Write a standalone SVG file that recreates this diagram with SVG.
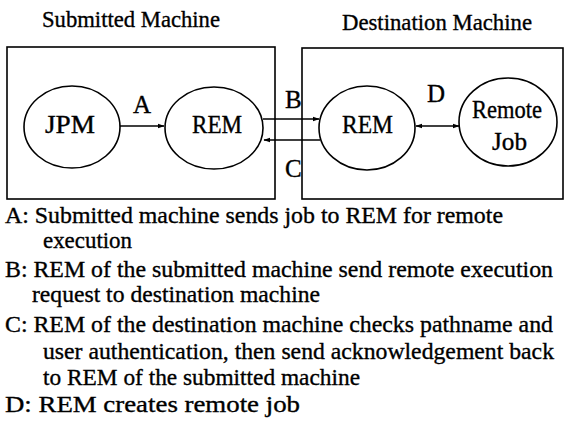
<svg xmlns="http://www.w3.org/2000/svg" width="565" height="423" viewBox="0 0 565 423">
<style>
text{font-family:'Liberation Serif','Times New Roman',serif;fill:#000;stroke:#000;stroke-width:0.35}
.t{font-size:24px}
.n{font-size:25px}
.d{font-size:23.5px}
.box{fill:none;stroke:#000;stroke-width:1.6}
.ell{fill:#fff;stroke:#000;stroke-width:1.6}
.ln{stroke:#000;stroke-width:1.6;fill:none}
</style>
<defs>
<marker id="ah" viewBox="0 0 10 10" refX="9" refY="5" markerWidth="7" markerHeight="7" orient="auto-start-reverse" markerUnits="userSpaceOnUse">
<path d="M0,1.5 L10,5 L0,8.5 Z" fill="#000"/>
</marker>
</defs>
<g id="submitted-machine">
<rect class="box" x="7" y="47" width="268" height="152"/>
<text class="t" x="42" y="27" textLength="178" lengthAdjust="spacingAndGlyphs">Submitted Machine</text>
</g>
<g id="destination-machine">
<rect class="box" x="302" y="48" width="261" height="151"/>
<text class="t" x="342" y="30" textLength="190" lengthAdjust="spacingAndGlyphs">Destination Machine</text>
</g>
<g id="jpm">
<ellipse class="ell" cx="72" cy="127" rx="48" ry="41"/>
<text class="n" x="45" y="133" textLength="50" lengthAdjust="spacingAndGlyphs">JPM</text>
</g>
<g id="rem-submitted">
<ellipse class="ell" cx="214" cy="128" rx="49" ry="41"/>
<text class="n" x="192" y="133" textLength="50" lengthAdjust="spacingAndGlyphs">REM</text>
</g>
<g id="rem-destination">
<ellipse class="ell" cx="367" cy="128" rx="48" ry="42"/>
<text class="n" x="342" y="133" textLength="51" lengthAdjust="spacingAndGlyphs">REM</text>
</g>
<g id="remote-job">
<ellipse class="ell" cx="508" cy="122" rx="49" ry="44"/>
<text class="n" x="472" y="118" textLength="70" lengthAdjust="spacingAndGlyphs">Remote</text>
<text class="n" x="492" y="150" textLength="35" lengthAdjust="spacingAndGlyphs">Job</text>
</g>
<g id="connectors">
<line class="ln" x1="120" y1="126" x2="164" y2="126" marker-end="url(#ah)"/>
<line class="ln" x1="263" y1="119" x2="319" y2="119" marker-end="url(#ah)"/>
<line class="ln" x1="320" y1="140" x2="264" y2="140" marker-end="url(#ah)"/>
<line class="ln" x1="416" y1="126" x2="459" y2="126" marker-start="url(#ah)" marker-end="url(#ah)"/>
<text class="n" x="133" y="113">A</text>
<text class="n" x="285" y="108">B</text>
<text class="n" x="285" y="177">C</text>
<text class="n" x="427" y="102">D</text>
</g>
<g id="legend">
<text class="d" x="5" y="223" textLength="498" lengthAdjust="spacingAndGlyphs">A: Submitted machine sends job to REM for remote</text>
<text class="d" x="43" y="248" textLength="89" lengthAdjust="spacingAndGlyphs">execution</text>
<text class="d" x="5" y="277" textLength="548" lengthAdjust="spacingAndGlyphs">B: REM of the submitted machine send remote execution</text>
<text class="d" x="32" y="302" textLength="288" lengthAdjust="spacingAndGlyphs">request to destination machine</text>
<text class="d" x="5" y="332" textLength="548" lengthAdjust="spacingAndGlyphs">C: REM of the destination machine checks pathname and</text>
<text class="d" x="43" y="359" textLength="511" lengthAdjust="spacingAndGlyphs">user authentication, then send acknowledgement back</text>
<text class="d" x="43" y="385" textLength="317" lengthAdjust="spacingAndGlyphs">to REM of the submitted machine</text>
<text class="d" x="5" y="412" textLength="295" lengthAdjust="spacingAndGlyphs">D: REM creates remote job</text>
</g>
</svg>
